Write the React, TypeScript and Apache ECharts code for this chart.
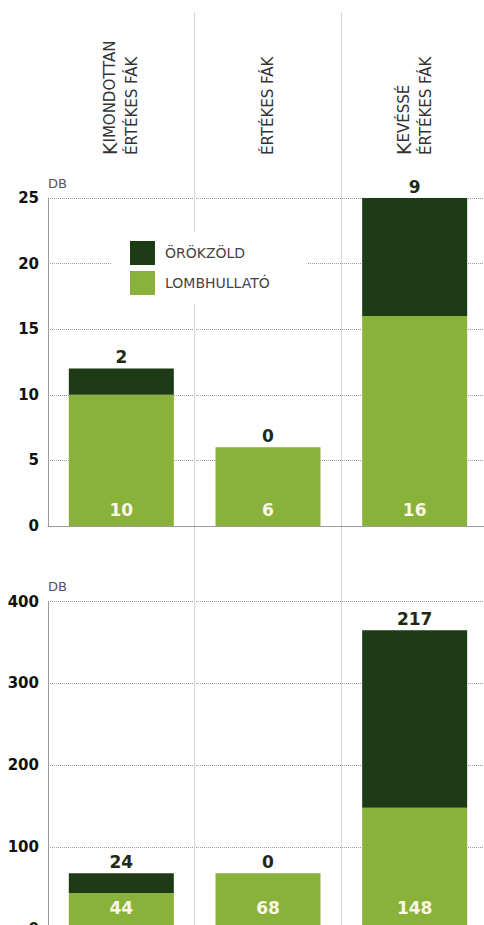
import React, { useEffect, useRef } from "react";
import * as echarts from "echarts";

const categories = ["Kimondottan\nértékes fák", "értékes fák", "Kevéssé\nértékes fák"];
const seriesNames = ["ÖRÖKZÖLD", "LOMBHULLATÓ"];
const lombhullatoTop = [10, 6, 16];
const orokzoldTop = [2, 0, 9];
const lombhullatoBottom = [44, 68, 148];
const orokzoldBottom = [24, 0, 217];
const topAxis = { min: 0, max: 25, interval: 5 };
const bottomAxis = { min: 0, max: 400, interval: 100 };
const unitName = "DB";

const DARK = "#1d3b14";
const LIGHT = "#89b23a";
const FONT = "DejaVu Sans";

function smallCaps(v: string): string {
  return v
    .split("\n")
    .map((line) =>
      line
        .split(" ")
        .map((word) => {
          const first = word[0];
          const rest = word.slice(1);
          const isUpper = first !== first.toLowerCase();
          return isUpper
            ? `{big|${first}}{sm|${rest.toUpperCase()}}`
            : `{sm|${word.toUpperCase()}}`;
        })
        .join("{sm| }")
    )
    .join("\n");
}

export default function App() {
  const ref = useRef<HTMLDivElement>(null);
  useEffect(() => {
    if (!ref.current) return;
    const chart = echarts.init(ref.current, undefined, { renderer: "svg" });
    const yAxisCommon = (gridIndex: number, range: any) => ({
      type: "value",
      gridIndex,
      ...range,
      name: unitName,
      nameLocation: "end",
      nameGap: 15,
      nameTextStyle: { align: "left", verticalAlign: "middle", color: "#555", fontSize: 13, fontFamily: FONT },
      axisLine: { show: true, lineStyle: { color: "#999", width: 1 } },
      axisTick: { show: false },
      axisLabel: { color: "#111", fontWeight: "bold", fontSize: 15, fontFamily: FONT, margin: 9 },
      splitLine: { show: true, lineStyle: { color: "#999", type: "dotted", width: 1 } },
    });
    const xAxisCommon = (gridIndex: number) => ({
      type: "category",
      gridIndex,
      data: categories,
      axisLine: { show: true, lineStyle: { color: "#999", width: 1 } },
      axisTick: { show: false },
      axisLabel: { show: false },
      splitLine: { show: false },
    });
    const valueLabelTop = {
      show: true,
      position: "top",
      distance: 3,
      color: "#1f2a14",
      fontWeight: "bold",
      fontSize: 17,
      fontFamily: FONT,
    };
    const valueLabelInside = (distance: number) => ({
      show: true,
      position: "insideBottom",
      distance,
      color: "#fbf7e4",
      fontWeight: "bold",
      fontSize: 17,
      fontFamily: FONT,
    });
    const option: any = {
      animation: false,
      grid: [
        { left: 48, width: 440, top: 198, height: 328, outerBoundsMode: "none" },
        { left: 48, width: 440, top: 601.5, height: 327.5, outerBoundsMode: "none" },
        { left: 48, width: 440, top: 12, height: 913, outerBoundsMode: "none" },
        { left: 48, width: 440, top: 160, height: 1, outerBoundsMode: "none" },
      ],
      legend: {
        data: [seriesNames[0], seriesNames[1]],
        orient: "vertical",
        left: 112,
        top: 232,
        itemWidth: 25,
        itemHeight: 24,
        itemGap: 6,
        padding: [9, 37, 9, 18],
        backgroundColor: "#fff",
        icon: "rect",
        selectedMode: false,
        textStyle: { fontFamily: FONT, fontSize: 14, color: "#444", padding: [0, 0, 0, 5] },
      },
      xAxis: [
        xAxisCommon(0),
        { ...xAxisCommon(1) },
        {
          type: "category",
          gridIndex: 2,
          data: categories,
          axisLine: { show: false },
          axisTick: { show: false },
          axisLabel: { show: false },
          splitLine: { show: true, showMinLine: false, lineStyle: { color: "#d6d6d6", width: 1 } },
        },
        {
          type: "category",
          gridIndex: 3,
          position: "top",
          data: categories,
          axisLine: { show: false },
          axisTick: { show: false },
          splitLine: { show: false },
          axisLabel: {
            show: true,
            interval: 0,
            rotate: 90,
            margin: 5,
            formatter: (v: string) => smallCaps(v),
            rich: {
              big: { fontFamily: FONT, fontSize: 19, color: "#333", lineHeight: 22 },
              sm: { fontFamily: FONT, fontSize: 15, color: "#333", lineHeight: 22 },
            },
          },
        },
      ],
      yAxis: [
        yAxisCommon(0, topAxis),
        yAxisCommon(1, bottomAxis),
        { type: "value", gridIndex: 2, show: false, splitLine: { show: false } },
        { type: "value", gridIndex: 3, show: false, splitLine: { show: false } },
      ],
      series: [
        {
          name: seriesNames[1],
          type: "bar",
          xAxisIndex: 0,
          yAxisIndex: 0,
          stack: "top",
          barWidth: 105,
          data: lombhullatoTop,
          itemStyle: { color: LIGHT },
          label: valueLabelInside(8),
        },
        {
          name: seriesNames[0],
          type: "bar",
          xAxisIndex: 0,
          yAxisIndex: 0,
          stack: "top",
          barWidth: 105,
          data: orokzoldTop,
          itemStyle: { color: DARK },
          label: valueLabelTop,
        },
        {
          name: seriesNames[1],
          type: "bar",
          xAxisIndex: 1,
          yAxisIndex: 1,
          stack: "bottom",
          barWidth: 105,
          data: lombhullatoBottom,
          itemStyle: { color: LIGHT },
          label: valueLabelInside(13),
        },
        {
          name: seriesNames[0],
          type: "bar",
          xAxisIndex: 1,
          yAxisIndex: 1,
          stack: "bottom",
          barWidth: 105,
          data: orokzoldBottom,
          itemStyle: { color: DARK },
          label: valueLabelTop,
        },
      ],
    };
    chart.setOption(option);
    return () => chart.dispose();
  }, []);
  return (
    <div
      ref={ref}
      style={{ position: "absolute", left: 0, top: 0, width: 484, height: 925, background: "#fff" }}
    />
  );
}
